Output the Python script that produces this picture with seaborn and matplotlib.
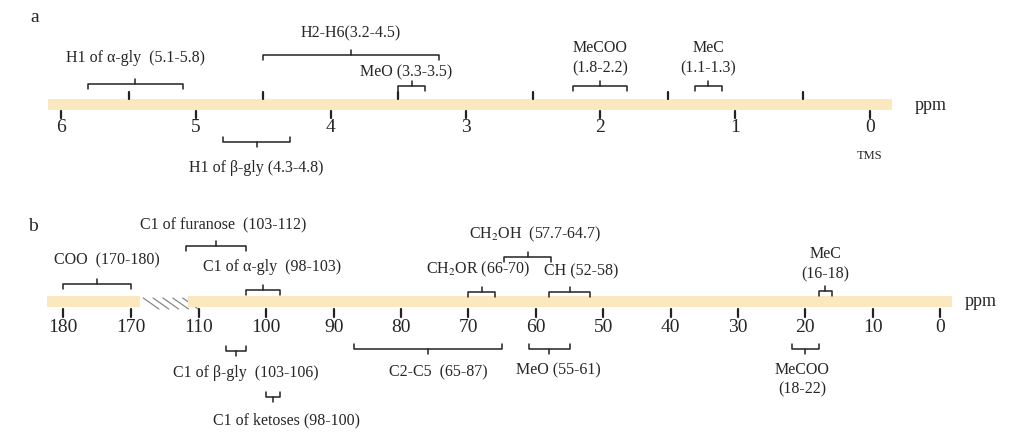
import matplotlib
matplotlib.use("Agg")
import matplotlib.pyplot as plt
import seaborn as sns

sns.set_theme(style="white")
plt.rcParams["font.family"] = "Liberation Serif"
plt.rcParams["mathtext.fontset"] = "stix"

# ---- data ----
a_ticks = [6, 5, 4, 3, 2, 1, 0]
a_half_ticks = [5.5, 4.5, 3.5, 2.5, 1.5, 0.5]
a_names = ["H1 of α-gly  (5.1-5.8)", "H2-H6(3.2-4.5)", "MeO (3.3-3.5)", "MeCOO\n(1.8-2.2)",
           "MeC\n(1.1-1.3)", "H1 of β-gly (4.3-4.8)"]
a_lo = [5.1, 3.2, 3.3, 1.8, 1.1, 4.3]
a_hi = [5.8, 4.5, 3.5, 2.2, 1.3, 4.8]
a_above = [True, True, True, True, True, False]

b_ticks_left = [180, 170]
b_ticks_right = [110, 100, 90, 80, 70, 60, 50, 40, 30, 20, 10, 0]
b_names = ["COO  (170-180)", "C1 of furanose  (103-112)", "C1 of α-gly  (98-103)",
           "CH$_2$OR (66-70)", "CH$_2$OH  (57.7-64.7)", "CH (52-58)", "MeC\n(16-18)",
           "C1 of β-gly  (103-106)", "C1 of ketoses (98-100)", "C2-C5  (65-87)",
           "MeO (55-61)", "MeCOO\n(18-22)"]
b_lo = [170, 103, 98, 66, 57.7, 52, 16, 103, 98, 65, 55, 18]
b_hi = [180, 112, 103, 70, 64.7, 58, 18, 106, 100, 87, 61, 22]
b_above = [True, True, True, True, True, True, True, False, False, False, False, False]

# ---- layout (pixel positions) ----
a_bracket_y = [84, 55, 86, 86, 86, 142]
a_gap = [18, 14, 6, 10, 10, 18]
a_dx = [0, 0, -6, 0, 0, 0]
b_bracket_y = [284, 246, 290, 292, 257, 292, 291, 351, 397, 349, 349, 349]
b_gap = [16, 13, 15, 13, 13, 13, 9, 14, 15, 15, 13, 13]
b_dx = [10, 7, 9, -4, 7, 12, 0, 10, 13, 10, 9, -3]

W, H = 1015, 441
fig = plt.figure(figsize=(W / 100, H / 100), dpi=100)

def make_ax(x0ppm, x1ppm):
    ax = fig.add_axes([0, 0, 1, 1])
    ax.set_xlim(x0ppm, x1ppm)
    ax.set_ylim(H, 0)
    ax.axis("off")
    ax.patch.set_alpha(0)
    return ax

BAR = "#FCE8BF"
LC = "#222222"
FS = 11.5

def bracket(ax, lo, hi, y, above, label, gap, dx, scale):
    s = 1 if above else -1
    ax.plot([lo, lo, hi, hi], [y + 5 * s, y, y, y + 5 * s], color=LC, lw=1.1)
    c = (lo + hi) / 2
    ax.plot([c, c], [y, y - 5 * s], color=LC, lw=1.1)
    tx = c - dx / scale
    if above:
        ax.text(tx, y - gap, label, ha="center", va="bottom", fontsize=FS, linespacing=1.3)
    else:
        ax.text(tx, y + gap, label, ha="center", va="top", fontsize=FS, linespacing=1.3)

# ---- panel a ----
sa = 134.8
axa = make_ax(870 / sa, (870 - W) / sa)
axa.fill_between([6.1, -0.16], 99, 110, color=BAR, lw=0)
for t in a_ticks:
    axa.plot([t, t], [111, 118], color=LC, lw=1.6)
    axa.text(t, 119, str(t), ha="center", va="top", fontsize=14)
for t in a_half_ticks:
    axa.plot([t, t], [92, 99], color=LC, lw=1.6)
axa.text(0, 150, "TMS", ha="center", va="top", fontsize=9)
axa.text(-0.33, 105, "ppm", ha="left", va="center", fontsize=13)
for n, lo, hi, ab, y, g, d in zip(a_names, a_lo, a_hi, a_above, a_bracket_y, a_gap, a_dx):
    bracket(axa, lo, hi, y, ab, n, g, d, sa)
fig.text(30 / W, 1 - 18 / H, "a", fontsize=14, ha="left", va="center")

# ---- panel b ----
sl = 6.8
axbl = make_ax(180 + 63 / sl, 180 - (W - 63) / sl)
sr = 6.736
axbr = make_ax(940 / sr, (940 - W) / sr)
axbl.fill_between([182.4, 168.7], 296, 307, color=BAR, lw=0)
axbr.fill_between([111.6, -1.8], 296, 307, color=BAR, lw=0)
for t in b_ticks_left:
    axbl.plot([t, t], [309, 317], color=LC, lw=1.6)
    axbl.text(t, 319, str(t), ha="center", va="top", fontsize=14)
for t in b_ticks_right:
    axbr.plot([t, t], [309, 317], color=LC, lw=1.6)
    axbr.text(t, 319, str(t), ha="center", va="top", fontsize=14)
# hatched break
for i in range(5):
    x0 = 168.2 - i * 1.45
    axbl.plot([x0, x0 - 2.3], [298, 309], color="#888888", lw=0.9)
axbr.text(-3.6, 301, "ppm", ha="left", va="center", fontsize=13)
for n, lo, hi, ab, y, g, d in zip(b_names, b_lo, b_hi, b_above, b_bracket_y, b_gap, b_dx):
    if lo >= 150:
        bracket(axbl, lo, hi, y, ab, n, g, d, sl)
    else:
        bracket(axbr, lo, hi, y, ab, n, g, d, sr)
fig.text(28 / W, 1 - 226 / H, "b", fontsize=14, ha="left", va="center")

fig.savefig("out.png", dpi=100, facecolor="white")
